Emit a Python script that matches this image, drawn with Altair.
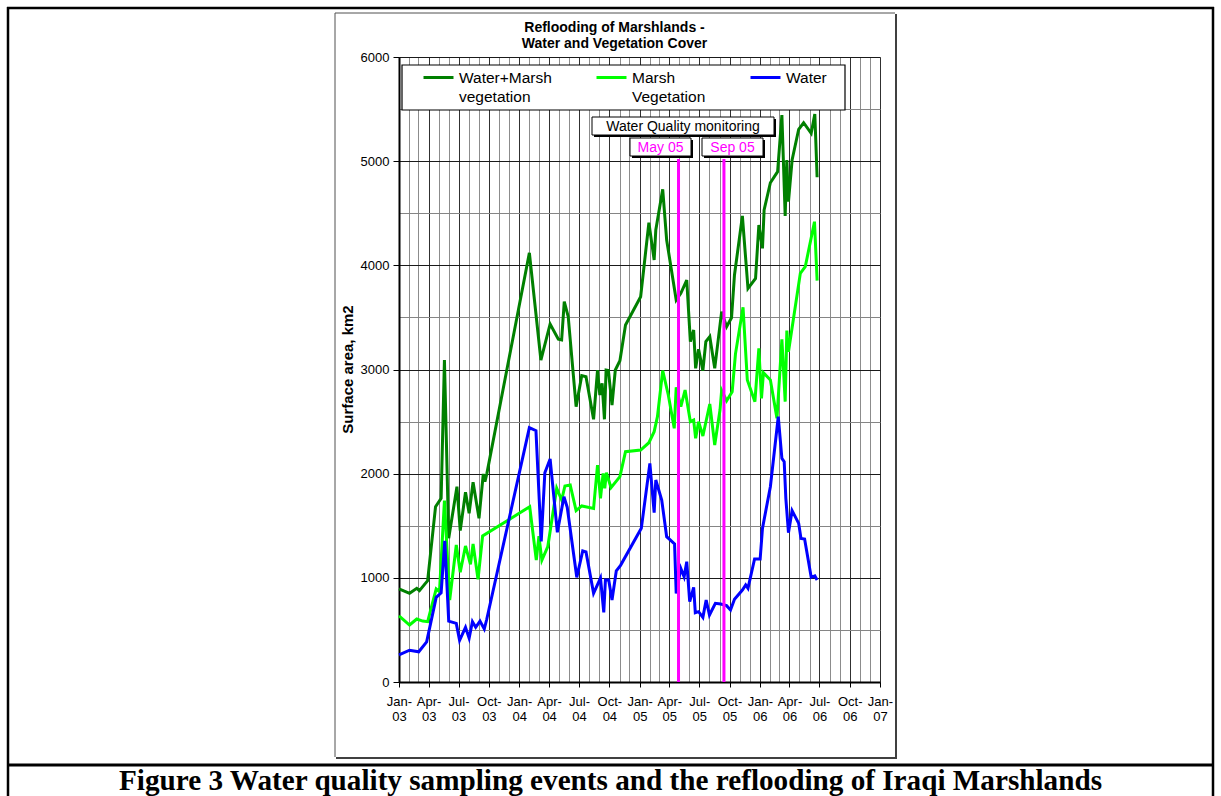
import altair as alt
import pandas as pd

# Surface area (km2) read from satellite scenes, one list per series
total_dates = [
    "2003-01-01", "2003-02-02", "2003-02-24", "2003-03-04", "2003-03-29", "2003-04-22",
    "2003-05-09", "2003-05-19", "2003-06-01", "2003-06-26", "2003-07-06", "2003-07-22",
    "2003-08-02", "2003-08-14", "2003-09-01", "2003-09-14", "2003-09-19", "2003-09-25",
    "2004-02-01", "2004-03-07", "2004-04-04", "2004-04-29", "2004-05-09", "2004-05-17",
    "2004-05-29", "2004-06-22", "2004-07-09", "2004-07-22", "2004-08-14", "2004-08-26",
    "2004-09-02", "2004-09-09", "2004-09-16", "2004-09-21", "2004-09-28", "2004-10-09",
    "2004-10-19", "2004-11-02", "2004-11-19", "2005-01-04", "2005-01-29", "2005-02-14",
    "2005-02-19", "2005-03-12", "2005-03-24", "2005-04-22", "2005-05-06", "2005-05-24",
    "2005-06-04", "2005-06-14", "2005-06-20", "2005-06-29", "2005-07-12", "2005-07-21",
    "2005-08-02", "2005-08-17", "2005-09-07", "2005-09-22", "2005-10-07", "2005-10-16",
    "2005-11-09", "2005-11-26", "2005-12-19", "2005-12-29", "2006-01-09", "2006-01-14",
    "2006-02-02", "2006-02-24", "2006-03-09", "2006-03-19", "2006-03-24", "2006-03-29",
    "2006-04-09", "2006-04-29", "2006-05-14", "2006-06-06", "2006-06-17", "2006-06-24",
]
total_km2 = [
    893, 851, 899, 877, 972, 1683,
    1763, 3091, 1380, 1875, 1453, 1821,
    1620, 1917, 1571, 1997, 1923, 2003,
    4120, 3091, 3437, 3290, 3283, 3651,
    3507, 2643, 2941, 2931, 2522, 2995,
    2755, 2867, 2522, 2995, 2990, 2659,
    2995, 3084, 3427, 3699, 4409, 4051,
    4339, 4730, 4243, 3667, 3731, 3859,
    3267, 3379, 3011, 3194, 2989, 3267,
    3315, 3011, 3555, 3411, 3497, 3907,
    4474, 3779, 3875, 4387, 4163, 4531,
    4793, 4899, 5443, 4474, 5011, 4611,
    5011, 5306, 5369, 5267, 5453, 4845,
]

marsh_dates = [
    "2003-01-01", "2003-02-02", "2003-02-24", "2003-03-14", "2003-03-29", "2003-04-24",
    "2003-05-04", "2003-05-19", "2003-06-04", "2003-06-24", "2003-07-06", "2003-07-22",
    "2003-08-06", "2003-08-14", "2003-08-29", "2003-09-12", "2004-02-02", "2004-02-22",
    "2004-03-01", "2004-03-10", "2004-03-28", "2004-04-24", "2004-05-09", "2004-05-19",
    "2004-06-04", "2004-06-22", "2004-07-09", "2004-08-14", "2004-08-26", "2004-09-04",
    "2004-09-12", "2004-09-17", "2004-09-22", "2004-10-06", "2004-11-02", "2004-11-19",
    "2005-01-04", "2005-01-29", "2005-02-14", "2005-02-24", "2005-03-12", "2005-03-29",
    "2005-04-16", "2005-04-22", "2005-05-06", "2005-05-19", "2005-06-04", "2005-06-14",
    "2005-06-20", "2005-06-29", "2005-07-12", "2005-08-02", "2005-08-17", "2005-09-02",
    "2005-09-07", "2005-09-22", "2005-10-09", "2005-10-19", "2005-11-11", "2005-11-24",
    "2005-12-17", "2005-12-29", "2006-01-06", "2006-01-12", "2006-02-02", "2006-02-22",
    "2006-03-09", "2006-03-19", "2006-03-24", "2006-03-29", "2006-05-04", "2006-05-19",
    "2006-06-16", "2006-06-24",
]
marsh_km2 = [
    634, 547, 605, 585, 579, 893,
    867, 1741, 787, 1315, 1053, 1306,
    1130, 1325, 986, 1402, 1683, 1170,
    1400, 1170, 1300, 1860, 1747, 1882,
    1891, 1645, 1690, 1667, 2083, 1763,
    2003, 1859, 2009, 1865, 1971, 2211,
    2227, 2297, 2403, 2547, 2989, 2755,
    2435, 2829, 2643, 2803, 2499, 2515,
    2339, 2499, 2362, 2669, 2275, 2611,
    2800, 2700, 2787, 3150, 3597, 2899,
    2691, 3203, 2723, 2969, 2899, 2531,
    3290, 2691, 3373, 3171, 3923, 3987,
    4419, 3853,
]

water_dates = [
    "2003-01-01", "2003-02-02", "2003-03-02", "2003-03-26", "2003-04-24", "2003-05-09",
    "2003-05-20", "2003-06-01", "2003-06-24", "2003-07-04", "2003-07-22", "2003-08-02",
    "2003-08-12", "2003-08-22", "2003-09-04", "2003-09-17", "2003-09-24", "2004-02-01",
    "2004-02-21", "2004-03-08", "2004-03-19", "2004-04-04", "2004-04-26", "2004-05-16",
    "2004-05-26", "2004-06-24", "2004-07-12", "2004-07-22", "2004-08-14", "2004-09-04",
    "2004-09-14", "2004-09-19", "2004-09-29", "2004-10-09", "2004-10-22", "2004-11-04",
    "2005-01-06", "2005-02-01", "2005-02-14", "2005-02-19", "2005-03-09", "2005-03-24",
    "2005-04-17", "2005-04-22", "2005-05-06", "2005-05-16", "2005-05-24", "2005-06-02",
    "2005-06-14", "2005-06-19", "2005-06-29", "2005-07-12", "2005-07-22", "2005-08-01",
    "2005-08-19", "2005-09-04", "2005-09-22", "2005-10-04", "2005-10-16", "2005-11-09",
    "2005-11-19", "2005-11-26", "2005-12-16", "2006-01-02", "2006-01-09", "2006-02-02",
    "2006-02-26", "2006-03-09", "2006-03-16", "2006-03-21", "2006-03-29", "2006-04-09",
    "2006-04-29", "2006-05-06", "2006-05-17", "2006-06-06", "2006-06-17", "2006-06-24",
]
water_km2 = [
    260, 305, 290, 385, 813, 857,
    1356, 585, 563, 400, 525, 420,
    579, 525, 585, 509, 595, 2441,
    2413, 1350, 2009, 2141, 1437, 1779,
    1677, 1005, 1258, 1248, 851, 998,
    669, 979, 979, 787, 1068, 1120,
    1475, 2099, 1625, 1939, 1747, 1395,
    1325, 851, 1091, 1011, 1155, 771,
    909, 665, 675, 621, 787, 643,
    755, 749, 733, 691, 794, 883,
    931, 899, 1181, 1181, 1475, 1875,
    2547, 2147, 2115, 1763, 1433, 1645,
    1523, 1379, 1373, 1005, 1018, 979,
]

series_names = ["Water+Marsh vegetation", "Marsh Vegetation", "Water"]
series_colors = ["#008000", "#00FF00", "#0000FF"]

# Water quality sampling campaigns
sampling_dates = ["2005-04-29", "2005-09-14"]
sampling_labels = ["May 05", "Sep 05"]
sampling_top = 5020

chart_title = ["Reflooding of Marshlands -", "Water and Vegetation Cover"]
caption = "Figure 3 Water quality sampling events and the reflooding of Iraqi Marshlands"

FONT = "Liberation Sans"

frames = []
for name, dates, vals in [
    (series_names[0], total_dates, total_km2),
    (series_names[1], marsh_dates, marsh_km2),
    (series_names[2], water_dates, water_km2),
]:
    frames.append(pd.DataFrame({"date": pd.to_datetime(dates), "km2": vals, "series": name}))
lines_df = pd.concat(frames, ignore_index=True)

sampling_df = pd.DataFrame({
    "date": pd.to_datetime(sampling_dates),
    "low": 0,
    "high": sampling_top,
})

one = pd.DataFrame({"n": [0]})

month_ticks = [alt.DateTime(year=2003 + m // 12, month=m % 12 + 1, date=1) for m in range(49)]
quarter_test = "month(datum.value) % 3 == 0"

x_scale = alt.Scale(domain=[alt.DateTime(year=2003, month=1, date=1),
                            alt.DateTime(year=2007, month=1, date=1)])
x_axis = alt.Axis(
    values=month_ticks,
    labelExpr=f"({quarter_test}) ? [timeFormat(datum.value, '%b-'), timeFormat(datum.value, '%y')] : ''",
    grid=True,
    gridColor={"condition": {"test": quarter_test, "value": "#303030"}, "value": "#8c8c8c"},
    tickOpacity={"condition": {"test": quarter_test, "value": 1}, "value": 0},
    tickSize=5,
    tickColor="black",
    domainColor="black",
    domainWidth=2,
    labelFont=FONT,
    labelFontSize=13,
    labelColor="black",
    labelLineHeight=15,
    labelBaseline="top",
    labelPadding=8,
    labelOverlap=False,
    labelFlush=False,
    title=None,
)

y_scale = alt.Scale(domain=[0, 6000])
y_axis = alt.Axis(
    values=list(range(0, 6001, 500)),
    format="d",
    labelExpr="datum.value % 1000 == 0 ? datum.label : ''",
    grid=True,
    gridColor={"condition": {"test": "datum.value % 1000 == 0", "value": "#1a1a1a"}, "value": "#858585"},
    tickOpacity={"condition": {"test": "datum.value % 1000 == 0", "value": 1}, "value": 0},
    tickSize=6,
    tickColor="black",
    domainColor="black",
    domainWidth=2,
    labelFont=FONT,
    labelFontSize=13,
    labelColor="black",
    labelPadding=4,
    title="Surface area, km2",
    titleFont=FONT,
    titleFontSize=15,
    titleFontWeight="bold",
    titleColor="black",
    titleAngle=270,
    titleAlign="center",
    titleBaseline="middle",
    titleX=-52,
    titleY=312,
)

# legend labels wrap onto two lines; single-word names get an empty second line
# so every entry has the same height
legend_label = (
    "length(split(datum.label, ' ')) > 1 ? split(datum.label, ' ') : [datum.label, '']"
)

series_lines = alt.Chart(lines_df).mark_line(strokeWidth=3).encode(
    x=alt.X("date:T", scale=x_scale, axis=x_axis),
    y=alt.Y("km2:Q", scale=y_scale, axis=y_axis),
    color=alt.Color(
        "series:N",
        scale=alt.Scale(domain=series_names, range=series_colors),
        sort=series_names,
        legend=alt.Legend(
            title=None,
            orient="none",
            legendX=23,
            legendY=4,
            direction="horizontal",
            columns=3,
            columnPadding=38,
            padding=0,
            symbolType="stroke",
            symbolSize=900,
            symbolStrokeWidth=3,
            labelExpr=legend_label,
            labelFont=FONT,
            labelFontSize=15.5,
            labelColor="black",
            labelBaseline="middle",
            labelOffset=4,
            labelLimit=0,
        ),
    ),
    order="date:T",
)

sampling_rules = alt.Chart(sampling_df).mark_rule(color="#FF00FF", strokeWidth=3).encode(
    x=alt.X("date:T", scale=x_scale, axis=x_axis),
    y=alt.Y("low:Q", scale=y_scale, axis=y_axis),
    y2="high:Q",
)


def box(x0, x1, y0, y1, fill="white", stroke="black", sw=1.0):
    return alt.Chart(one).mark_rect(fill=fill, stroke=stroke, strokeWidth=sw).encode(
        x=alt.value(x0), x2=alt.value(x1), y=alt.value(y0), y2=alt.value(y1)
    )


def shadowed_box(x0, x1, y0, y1, off=2):
    return [box(x0 + off, x1 + off, y0 + off, y1 + off, fill="black", stroke="black", sw=0),
            box(x0, x1, y0, y1)]


def label(text, x, y, size=14, color="black", weight="normal", font=FONT):
    return alt.Chart(one).mark_text(
        text=text, font=font, fontSize=size, color=color, fontWeight=weight,
        align="center", baseline="middle",
    ).encode(x=alt.value(x), y=alt.value(y))


def hline(x0, x1, y, sw, color="black"):
    return alt.Chart(one).mark_rule(color=color, strokeWidth=sw).encode(
        x=alt.value(x0), x2=alt.value(x1), y=alt.value(y)
    )


def vline(x, y0, y1, sw, color="black"):
    return alt.Chart(one).mark_rule(color=color, strokeWidth=sw).encode(
        x=alt.value(x), y=alt.value(y0), y2=alt.value(y1)
    )


# page table borders and the chart-area frame (pixel offsets from the plot origin)
page = [
    hline(-392, 815, -49, 2.5),
    vline(-391, -50, 740, 2.5),
    vline(814, -50, 740, 2.5),
    hline(-392, 815, 708, 3),
]
chart_frame = [
    hline(-64, 496, -44, 1, "#505050"),
    vline(-64, -44, 700, 1, "#505050"),
    vline(497, -43, 702, 2, "#404040"),
    hline(-63, 498, 701, 2, "#404040"),
]
title_text = [
    label(chart_title[0], 215.5, -29.5, size=14, weight="bold"),
    label(chart_title[1], 215.5, -13, size=14, weight="bold"),
]
caption_text = alt.Chart(one).mark_text(
    text=caption, font="Liberation Serif", fontSize=29.2, fontWeight="bold",
    color="black", align="center", baseline="alphabetic",
).encode(x=alt.value(211.5), y=alt.value(733))

legend_box = [box(3, 446, 8, 53, sw=1.2)]
annotations = (
    shadowed_box(193, 375, 60, 78)
    + shadowed_box(231, 292, 81, 99)
    + shadowed_box(303, 364, 81, 99)
    + [
        label("Water Quality monitoring", 284, 69.5, size=14),
        label(sampling_labels[0], 261.5, 90.5, size=14, color="#FF00FF"),
        label(sampling_labels[1], 333.5, 90.5, size=14, color="#FF00FF"),
    ]
)

chart = alt.layer(
    *page, *chart_frame, *title_text, caption_text,
    series_lines, sampling_rules,
    *legend_box, *annotations,
).properties(
    width=481,
    height=625,
    autosize="none",
    padding={"left": 399, "top": 57, "right": 341, "bottom": 114},
).configure_view(
    fill="#C0C0C0", stroke="black", strokeWidth=2,
).configure(
    background="white",
    style={"guide-label": {"lineHeight": 19}},
)

chart.save("out.html", embed_options={"renderer": "svg", "actions": False})
